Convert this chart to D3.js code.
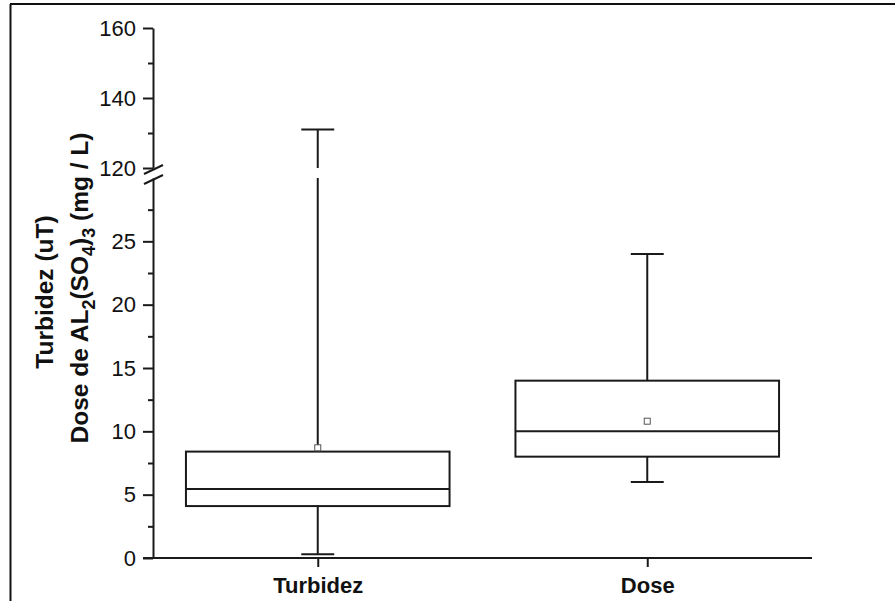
<!DOCTYPE html>
<html>
<head>
<meta charset="utf-8">
<script src="https://cdn.jsdelivr.net/npm/d3@7"></script>
<style>
  html, body { margin: 0; padding: 0; background: #fff; }
  svg { display: block; }
  text { font-family: Arial, "Liberation Sans", sans-serif; fill: #111; }
</style>
</head>
<body>
<svg id="chart" width="895" height="601"></svg>
<script>
// Box-plot statistics per category
const categories = ["Turbidez", "Dose"];
const whiskerMin = [0.3, 6];
const q1 = [4.1, 8];
const median = [5.45, 10];
const q3 = [8.4, 14];
const whiskerMax = [131, 24];
const mean = [8.7, 10.8];

// Broken y axis: lower and upper segments
const lowerDomain = [0, 30];
const upperDomain = [120, 160];
const lowerMajor = [0, 5, 10, 15, 20, 25];
const lowerMinor = [2.5, 7.5, 12.5, 17.5, 22.5, 27.5];
const upperMajor = [120, 140, 160];
const upperMinor = [130, 150];

const svg = d3.select("#chart");
const ink = "#1a1a1a";

// Outer frame (left and top edges)
svg.append("line").attr("x1", 10.5).attr("x2", 10.5).attr("y1", 4).attr("y2", 601)
  .attr("stroke", "#111").attr("stroke-width", 2);
svg.append("line").attr("x1", 10).attr("x2", 895).attr("y1", 4).attr("y2", 4)
  .attr("stroke", "#111").attr("stroke-width", 2);

const axisX = 153, axisBottom = 558, axisRight = 812;

const yLow = d3.scaleLinear().domain(lowerDomain).range([axisBottom, 178]);
const yHigh = d3.scaleLinear().domain(upperDomain).range([168, 28]);
const y = v => (v <= lowerDomain[1] ? yLow(v) : yHigh(v));

const x = d3.scalePoint().domain(categories).range([axisX, axisRight]).padding(0.5);
const step = x.step();
const boxW = step * 0.8;
const capW = step * 0.1;

// Y axis segments
function drawSegment(scale, major, minor) {
  const g = svg.append("g").attr("transform", `translate(${axisX},0)`);
  g.call(d3.axisLeft(scale).tickValues(major).tickSize(10).tickSizeOuter(0).tickPadding(7));
  g.select(".domain").attr("stroke", ink).attr("stroke-width", 2);
  g.selectAll(".tick line").attr("stroke", ink).attr("stroke-width", 2);
  g.selectAll(".tick text").style("font-size", "22px").style("fill", "#111")
    .attr("font-family", "Arial, 'Liberation Sans', sans-serif");
  const gm = svg.append("g").attr("transform", `translate(${axisX},0)`);
  gm.call(d3.axisLeft(scale).tickValues(minor).tickSize(5).tickSizeOuter(0).tickFormat(""));
  gm.select(".domain").remove();
  gm.selectAll(".tick line").attr("stroke", ink).attr("stroke-width", 2);
}
drawSegment(yLow, lowerMajor, lowerMinor);
drawSegment(yHigh, upperMajor, upperMinor);

// Break marks on the y axis
const gapTop = yHigh(upperDomain[0]), gapBot = yLow(lowerDomain[1]);
// white gap on axis between the marks
svg.append("rect").attr("x", axisX - 2).attr("y", gapTop + 1).attr("width", 4).attr("height", gapBot - gapTop - 1)
  .attr("fill", "#fff");
[gapTop + 2, gapBot + 2].forEach(cy => {
  svg.append("line")
    .attr("x1", axisX - 9).attr("y1", cy + 4)
    .attr("x2", axisX + 10).attr("y2", cy - 5)
    .attr("stroke", ink).attr("stroke-width", 2);
});

// X axis
const gx = svg.append("g").attr("transform", `translate(0,${axisBottom})`);
gx.call(d3.axisBottom(x).tickSize(9).tickSizeOuter(0).tickPadding(10));
gx.select(".domain").attr("d", `M${axisX - 10},0H${axisRight}`).attr("stroke", ink).attr("stroke-width", 2);
gx.selectAll(".tick line").attr("stroke", ink).attr("stroke-width", 2);
gx.selectAll(".tick text").style("font-size", "22px").style("font-weight", "bold").style("fill", "#111")
  .attr("font-family", "Arial, 'Liberation Sans', sans-serif");

// Boxes
const data = categories.map((c, i) => ({
  c, lo: whiskerMin[i], q1: q1[i], med: median[i], q3: q3[i], hi: whiskerMax[i], mean: mean[i]
}));

const boxes = svg.append("g");
data.forEach(d => {
  const cx = x(d.c);
  const g = boxes.append("g").attr("stroke", ink).attr("stroke-width", 2).attr("fill", "none");
  // whiskers (split across the axis break when needed)
  const segs = d.hi > lowerDomain[1]
    ? [[y(d.q3), gapBot], [gapTop, y(d.hi)]]
    : [[y(d.q3), y(d.hi)]];
  segs.forEach(([a, b]) => g.append("line").attr("x1", cx).attr("x2", cx).attr("y1", a).attr("y2", b));
  g.append("line").attr("x1", cx).attr("x2", cx).attr("y1", y(d.q1)).attr("y2", y(d.lo));
  g.append("line").attr("x1", cx - capW / 2).attr("x2", cx + capW / 2).attr("y1", y(d.hi)).attr("y2", y(d.hi));
  g.append("line").attr("x1", cx - capW / 2).attr("x2", cx + capW / 2).attr("y1", y(d.lo)).attr("y2", y(d.lo));
  g.append("rect").attr("x", cx - boxW / 2).attr("y", y(d.q3))
    .attr("width", boxW).attr("height", y(d.q1) - y(d.q3)).attr("fill", "#fff");
  g.append("line").attr("x1", cx - boxW / 2).attr("x2", cx + boxW / 2).attr("y1", y(d.med)).attr("y2", y(d.med));
  boxes.append("rect").attr("x", cx - 3).attr("y", y(d.mean) - 3).attr("width", 6).attr("height", 6)
    .attr("fill", "#fff").attr("stroke", "#555").attr("stroke-width", 1);
});

// Y axis title (two rotated lines with subscripts)
svg.append("text").attr("transform", "translate(53,292) rotate(-90)")
  .attr("text-anchor", "middle").style("font-size", "24.5px").style("font-weight", "bold")
  .text("Turbidez (uT)");
const t2 = svg.append("text").attr("transform", "translate(88,288) rotate(-90)")
  .attr("text-anchor", "middle").style("font-size", "24.5px").style("font-weight", "bold");
const parts = [["Dose de AL", 0], ["2", 1], ["(SO", 0], ["4", 1], [")", 0], ["3", 1], [" (mg / L)", 0]];
let shifted = false;
parts.forEach(([s, sub]) => {
  const ts = t2.append("tspan").text(s);
  if (sub) {
    ts.style("font-size", "18px");
    if (!shifted) { ts.attr("dy", 7); shifted = true; }
  } else if (shifted) {
    ts.attr("dy", -7); shifted = false;
  }
});
</script>
</body>
</html>
